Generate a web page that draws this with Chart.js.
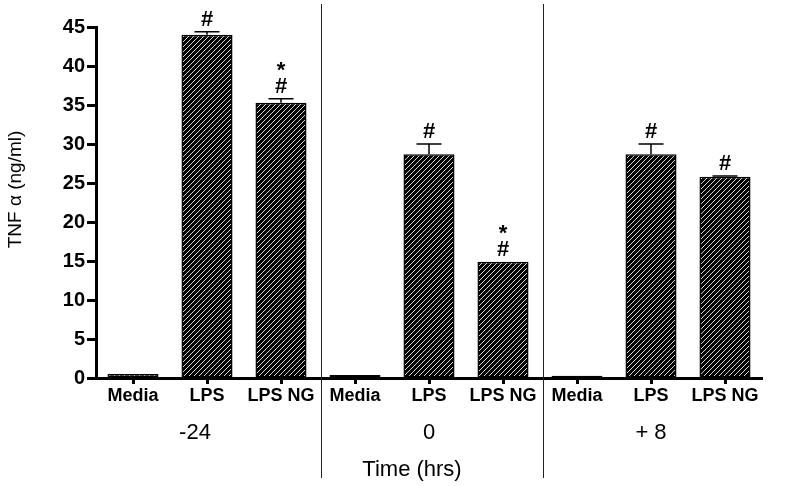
<!DOCTYPE html>
<html>
<head>
<meta charset="utf-8">
<script src="https://cdn.jsdelivr.net/npm/chart.js@4"></script>
<style>
  html, body { margin: 0; padding: 0; background: #fff; }
  #wrap { width: 792px; height: 486px; }
</style>
</head>
<body>
<div id="wrap"><canvas id="c" width="792" height="486"></canvas></div>
<script>
const categories = ['Media', 'LPS', 'LPS NG', 'Media', 'LPS', 'LPS NG', 'Media', 'LPS', 'LPS NG'];
const values     = [0.5, 44.0, 35.3, 0.4, 28.7, 14.9, 0.3, 28.7, 25.8];
const errors     = [0, 0.4, 0.5, 0, 1.3, 0, 0, 1.3, 0.1];
const marks      = ['', '#', '*#', '', '#', '*#', '', '#', '#'];
const groupLabels = ['-24', '0', '+ 8'];
const yTicks = [0, 5, 10, 15, 20, 25, 30, 35, 40, 45];
const yTitle = 'TNF \u03b1 (ng/ml)';
const xTitle = 'Time (hrs)';

const FONT = '"Liberation Sans", Arial, Helvetica, sans-serif';

function hatch() {
  const c = document.createElement('canvas');
  c.width = 5; c.height = 5;
  const g = c.getContext('2d');
  g.fillStyle = '#000';
  g.fillRect(0, 0, 5, 5);
  g.fillStyle = '#d8d8d8';
  for (let i = 0; i < 5; i++) g.fillRect(i, 4 - i, 1, 1);
  return g.createPattern(c, 'repeat');
}

const overlay = {
  id: 'overlay',
  afterDatasetsDraw(chart) {
    const ctx = chart.ctx;
    const x = chart.scales.x, y = chart.scales.y;
    ctx.save();
    // error bars
    ctx.strokeStyle = '#000';
    ctx.lineWidth = 1.5;
    values.forEach((v, i) => {
      const e = errors[i];
      if (!e) return;
      const cx = x.getPixelForValue(i);
      const y0 = y.getPixelForValue(v);
      const y1 = y.getPixelForValue(v + e);
      ctx.beginPath();
      ctx.moveTo(cx, y0); ctx.lineTo(cx, y1);
      ctx.moveTo(cx - 12.5, y1); ctx.lineTo(cx + 12.5, y1);
      ctx.stroke();
    });
    // significance marks
    ctx.fillStyle = '#000';
    ctx.textAlign = 'center';
    ctx.textBaseline = 'alphabetic';
    ctx.font = 'bold 22px ' + FONT;
    values.forEach((v, i) => {
      const m = marks[i];
      if (!m) return;
      const cx = x.getPixelForValue(i);
      const top = y.getPixelForValue(v + errors[i]);
      const hashCenter = top - 14;
      if (m.includes('#')) ctx.fillText('#', cx, hashCenter + 8);
      if (m.includes('*')) ctx.fillText('*', cx, hashCenter - 21 + 13);
    });
    // separators
    ctx.strokeStyle = '#222';
    ctx.lineWidth = 1;
    [2, 5].forEach(i => {
      const sx = Math.round((x.getPixelForValue(i) + x.getPixelForValue(i + 1)) / 2 + 3) + 0.5;
      ctx.beginPath();
      ctx.moveTo(sx, 4); ctx.lineTo(sx, 478);
      ctx.stroke();
    });
    // group labels
    ctx.font = '22px ' + FONT;
    ctx.textBaseline = 'middle';
    groupLabels.forEach((g, k) => {
      const cx = x.getPixelForValue(k * 3 + 1) - (k === 0 ? 12 : 0);
      ctx.fillText(g, cx, 433);
    });
    // x title
    ctx.fillText(xTitle, (x.left + x.right) / 2 - 17, 470);
    // y title
    ctx.font = '19px ' + FONT;
    ctx.translate(16, (y.top + y.bottom) / 2 - 13);
    ctx.rotate(-Math.PI / 2);
    ctx.fillText(yTitle, 0, 0);
    ctx.restore();
  }
};

new Chart(document.getElementById('c'), {
  type: 'bar',
  data: {
    labels: categories,
    datasets: [{
      data: values,
      backgroundColor: hatch(),
      borderColor: '#000',
      borderWidth: 1.5,
      borderSkipped: false,
      barPercentage: 0.69,
      categoryPercentage: 1
    }]
  },
  options: {
    responsive: false,
    animation: false,
    devicePixelRatio: 1,
    layout: { padding: { top: 27, right: 30, left: 0, bottom: 0 } },
    plugins: { legend: { display: false }, tooltip: { enabled: false } },
    scales: {
      x: {
        offset: true,
        grid: { offset: false, drawOnChartArea: false, drawTicks: true, tickLength: 6, tickWidth: 3, tickColor: '#000' },
        border: { display: true, color: '#000', width: 3 },
        ticks: { color: '#000', font: { family: FONT, size: 18, weight: 'bold' }, padding: 1, maxRotation: 0, autoSkip: false },
        afterFit(s) { s.height = 108; }
      },
      y: {
        min: 0, max: 45,
        afterBuildTicks(s) { s.ticks = yTicks.map(v => ({ value: v })); },
        ticks: { color: '#000', font: { family: FONT, size: 20, weight: 'bold' }, padding: 2 },
        grid: { drawOnChartArea: false, drawTicks: true, tickLength: 9, tickWidth: 3, tickColor: '#000' },
        border: { display: true, color: '#000', width: 3 },
        afterFit(s) { s.width = 96; }
      }
    }
  },
  plugins: [overlay]
});
</script>
</body>
</html>
